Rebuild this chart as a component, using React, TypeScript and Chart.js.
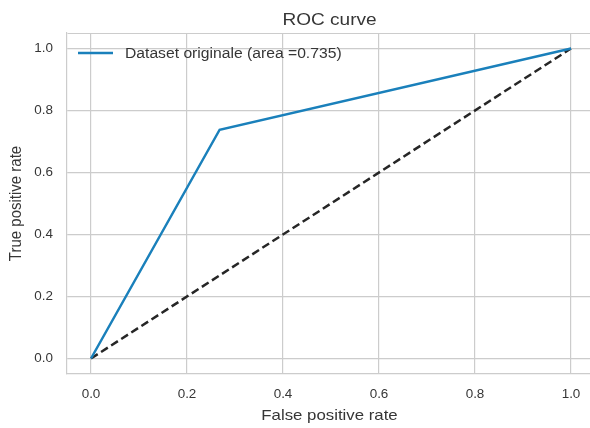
import React, { useEffect, useRef } from "react";
import { Chart, registerables } from "chart.js";

Chart.register(...registerables);

// ROC points (false positive rate, true positive rate)
const fpr = [0.0, 0.268, 1.0];
const tpr = [0.0, 0.738, 1.0];
const chanceX = [0.0, 1.0];
const chanceY = [0.0, 1.0];
const tickValues = [0.0, 0.2, 0.4, 0.6, 0.8, 1.0];
const tickLabels = ["0.0", "0.2", "0.4", "0.6", "0.8", "1.0"];
const seriesLabel = "Dataset originale (area =0.735)";
const titleText = "ROC curve";
const xTitle = "False positive rate";
const yTitle = "True positive rate";

const FONT = "'Liberation Sans', Arial, sans-serif";
const TEXT = "#363636";
const GRID = "#cccccc";
const BLUE = "#1a80bb";
const WIDEN = 1.12; // horizontal widening of all lettering

function wideText(ctx: CanvasRenderingContext2D, text: string, x: number, y: number, align: CanvasTextAlign) {
  ctx.save();
  ctx.translate(x, y);
  ctx.scale(WIDEN, 1);
  ctx.textAlign = align;
  ctx.fillText(text, 0, 0);
  ctx.restore();
}

export default function App() {
  const ref = useRef<HTMLCanvasElement | null>(null);

  useEffect(() => {
    document.body.style.margin = "0";
    const canvas = ref.current;
    if (!canvas) return;

    const decor = {
      id: "decor",
      beforeDatasetsDraw(chart: any) {
        const { ctx, chartArea } = chart;
        ctx.save();
        ctx.strokeStyle = GRID;
        ctx.lineWidth = 1.2;
        ctx.beginPath();
        ctx.moveTo(chartArea.left + 0.5, chartArea.top + 0.5);
        ctx.lineTo(chartArea.right, chartArea.top + 0.5);
        ctx.stroke();
        ctx.restore();
      },
      afterDraw(chart: any) {
        const { ctx, scales } = chart;
        ctx.save();
        ctx.fillStyle = TEXT;
        ctx.textBaseline = "alphabetic";

        // tick labels
        ctx.font = `12px ${FONT}`;
        tickValues.forEach((v, i) => {
          const px = scales.x.getPixelForValue(v);
          wideText(ctx, tickLabels[i], px, 398, "center");
        });
        ctx.textBaseline = "middle";
        tickValues.forEach((v, i) => {
          const py = scales.y.getPixelForValue(v);
          wideText(ctx, tickLabels[i], 53, py + 0.5, "right");
        });
        ctx.textBaseline = "alphabetic";

        // titles
        ctx.font = `17px ${FONT}`;
        wideText(ctx, titleText, 329.5, 25, "center");
        ctx.font = `15px ${FONT}`;
        wideText(ctx, xTitle, 329.5, 420, "center");
        ctx.save();
        ctx.translate(21, 203.5);
        ctx.rotate(-Math.PI / 2);
        ctx.scale(1, WIDEN);
        ctx.textAlign = "center";
        ctx.fillText(yTitle, 0, 0);
        ctx.restore();

        // legend
        const ly = 53;
        ctx.strokeStyle = BLUE;
        ctx.lineWidth = 2.5;
        ctx.beginPath();
        ctx.moveTo(78, ly);
        ctx.lineTo(113, ly);
        ctx.stroke();
        ctx.font = `14px ${FONT}`;
        wideText(ctx, seriesLabel, 125, 58, "left");
        ctx.restore();
      },
    };

    const chart = new Chart(canvas, {
      type: "scatter",
      data: {
        datasets: [
          {
            label: "chance",
            data: chanceX.map((x, i) => ({ x, y: chanceY[i] })),
            showLine: true,
            borderColor: "#262626",
            borderWidth: 2.5,
            borderDash: [8, 4],
            pointRadius: 0,
            fill: false,
            order: 2,
          },
          {
            label: seriesLabel,
            data: fpr.map((x, i) => ({ x, y: tpr[i] })),
            showLine: true,
            borderColor: BLUE,
            borderWidth: 2.5,
            pointRadius: 0,
            fill: false,
            order: 1,
          },
        ],
      },
      options: {
        responsive: false,
        animation: false,
        layout: { padding: { top: 33, right: 0, left: 0, bottom: 0 } },
        plugins: {
          legend: { display: false },
          title: { display: false },
          tooltip: { enabled: false },
        },
        scales: {
          x: {
            type: "linear",
            min: -0.05,
            max: 1.0396,
            afterBuildTicks: (s: any) => {
              s.ticks = tickValues.map((v) => ({ value: v }));
            },
            afterFit: (s: any) => {
              s.height = 54;
            },
            grid: { color: GRID, lineWidth: 1.2, drawTicks: false },
            border: { color: GRID, width: 1.2 },
            ticks: { display: false },
          },
          y: {
            type: "linear",
            min: -0.05,
            max: 1.05,
            afterBuildTicks: (s: any) => {
              s.ticks = tickValues.map((v) => ({ value: v }));
            },
            afterFit: (s: any) => {
              s.width = 67;
            },
            grid: { color: GRID, lineWidth: 1.2, drawTicks: false },
            border: { color: GRID, width: 1.2 },
            ticks: { display: false },
          },
        },
      },
      plugins: [decor],
    });

    return () => chart.destroy();
  }, []);

  return (
    <div style={{ position: "absolute", left: 0, top: 0, width: 590, height: 428, background: "#fff" }}>
      <canvas ref={ref} width={590} height={428} />
    </div>
  );
}
